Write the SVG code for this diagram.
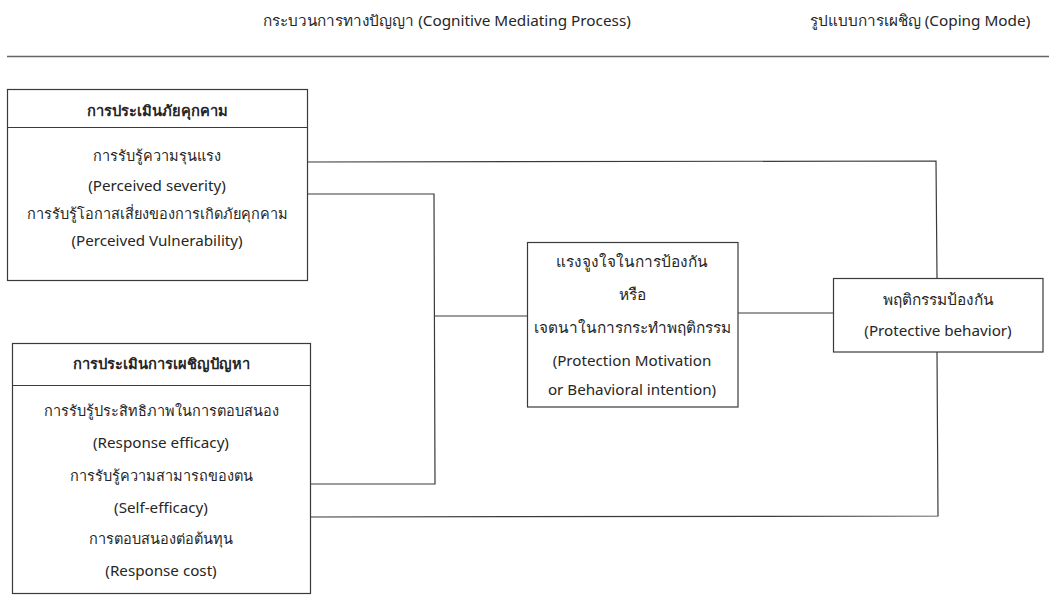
<svg xmlns="http://www.w3.org/2000/svg" width="1049" height="595" viewBox="0 0 1049 595">
  <style>
    .box { fill: #ffffff; stroke: #3a3a3a; stroke-width: 1.2; }
    .div { stroke: #3a3a3a; stroke-width: 1.2; }
    .wire { fill: none; stroke: #3a3a3a; stroke-width: 1.2; }
    text { font-family: "Noto Sans", "DejaVu Sans", sans-serif; font-size: 15.2px; fill: #262626; text-anchor: middle; }
    .th { font-size: 14.5px; }
    .th-l { font-size: 15.4px; }
    .title { font-weight: bold; font-size: 14.7px; }
    .head { font-size: 15.3px; }
  </style>
  <rect width="1049" height="595" fill="#ffffff"/>

  <!-- column headings -->
  <g id="headings">
    <text class="head" x="447" y="25.5">กระบวนการทางปัญญา (Cognitive Mediating Process)</text>
    <text class="head" x="920" y="25.5">รูปแบบการเผชิญ (Coping Mode)</text>
    <line x1="7" y1="56.5" x2="1049" y2="56.5" stroke="#666666" stroke-width="1.5"/>
  </g>

  <!-- connectors -->
  <g id="connectors">
    <polyline class="wire" points="308,162 936,161 937,278"/>
    <polyline class="wire" points="308,194 434,194 435,484 311,484"/>
    <line class="wire" x1="435" y1="316" x2="527" y2="316"/>
    <line class="wire" x1="738" y1="313" x2="833" y2="313"/>
    <polyline class="wire" points="937,352 938,516 311,517"/>
  </g>

  <!-- threat appraisal -->
  <g id="threat-appraisal">
    <rect class="box" x="7.5" y="89.5" width="300" height="191"/>
    <line class="div" x1="7.5" y1="127.5" x2="307.5" y2="127.5"/>
    <text class="title" x="157" y="115.5">การประเมินภัยคุกคาม</text>
    <text class="th" x="157" y="160.5">การรับรู้ความรุนแรง</text>
    <text x="157" y="190.5">(Perceived severity)</text>
    <text class="th" x="157" y="218.5">การรับรู้โอกาสเสี่ยงของการเกิดภัยคุกคาม</text>
    <text x="157" y="245.5">(Perceived Vulnerability)</text>
  </g>

  <!-- coping appraisal -->
  <g id="coping-appraisal">
    <rect class="box" x="12.5" y="343.5" width="298" height="250"/>
    <line class="div" x1="12.5" y1="385.5" x2="310.5" y2="385.5"/>
    <text class="title" x="161" y="368.5">การประเมินการเผชิญปัญหา</text>
    <text class="th" x="161" y="415.5">การรับรู้ประสิทธิภาพในการตอบสนอง</text>
    <text x="161" y="447.5">(Response efficacy)</text>
    <text class="th" x="161" y="480.5">การรับรู้ความสามารถของตน</text>
    <text x="161" y="512.5">(Self-efficacy)</text>
    <text class="th" x="161" y="543.5">การตอบสนองต่อต้นทุน</text>
    <text x="161" y="575.5">(Response cost)</text>
  </g>

  <!-- protection motivation -->
  <g id="protection-motivation">
    <rect class="box" x="527.5" y="242.5" width="210.5" height="164.5"/>
    <text class="th-l" x="632" y="267">แรงจูงใจในการป้องกัน</text>
    <text class="th-l" x="632" y="300">หรือ</text>
    <text class="th-l" x="632" y="333">เจตนาในการกระทำพฤติกรรม</text>
    <text x="632" y="365.5">(Protection Motivation</text>
    <text x="632" y="394.5">or Behavioral intention)</text>
  </g>

  <!-- protective behavior -->
  <g id="protective-behavior">
    <rect class="box" x="833.5" y="278.5" width="209.5" height="73.5"/>
    <text class="th-l" x="938" y="305">พฤติกรรมป้องกัน</text>
    <text x="938" y="335.5">(Protective behavior)</text>
  </g>
</svg>
